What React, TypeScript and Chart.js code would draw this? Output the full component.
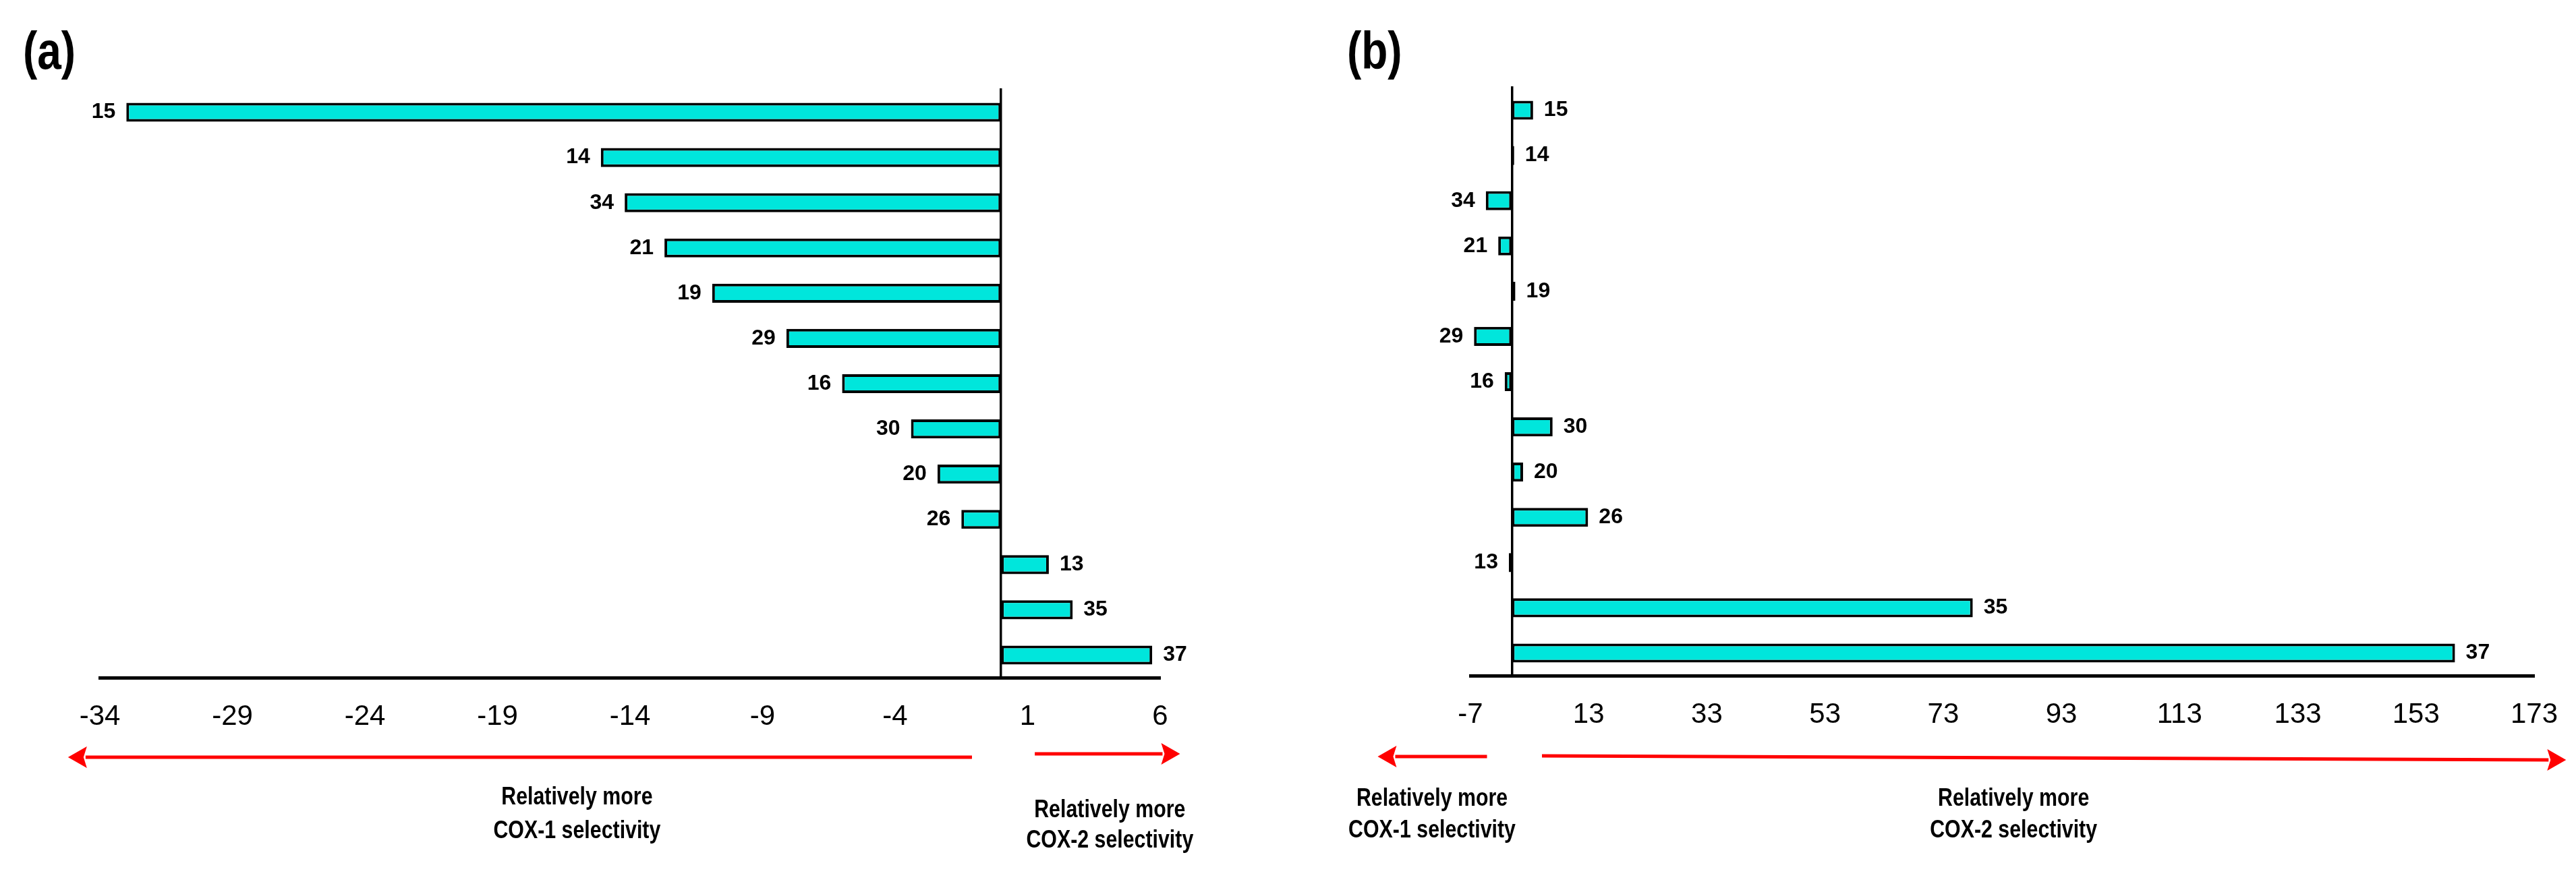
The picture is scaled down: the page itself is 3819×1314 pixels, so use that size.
import React, { useEffect, useRef } from "react";
import { Chart, registerables } from "chart.js";

Chart.register(...registerables);

// ---------- data ----------
const compounds = ["15", "14", "34", "21", "19", "29", "16", "30", "20", "26", "13", "35", "37"];
const valuesA = [-33, -15.1, -14.2, -12.7, -10.9, -8.1, -6.0, -3.4, -2.4, -1.5, 1.8, 2.7, 5.7];
const valuesB = [3.6, 0.4, -4.4, -2.3, 0.6, -6.4, -1.2, 6.9, 1.9, 12.9, -0.5, 78, 159.6];
const ticksA = [-34, -29, -24, -19, -14, -9, -4, 1, 6];
const ticksB = [-7, 13, 33, 53, 73, 93, 113, 133, 153, 173];
const panelTitles = ["(a)", "(b)"];
const noteCox1 = ["Relatively more", "COX-1 selectivity"];
const noteCox2 = ["Relatively more", "COX-2 selectivity"];

const SANS = "'Liberation Sans', Arial, sans-serif";
const RED = "#ff0000";
const CYAN = "#00e6dc";
const NARROW_SCALE = 0.82;

type Arrow = { from: number; to: number; dy1: number; dy2: number };
type Note = { at: number; dy1: number; dy2: number; lines: string[] };
type Decor = { title: string; titleX: number; titleY: number; arrows: Arrow[]; notes: Note[] };

function drawArrow(ctx: CanvasRenderingContext2D, x1: number, y1: number, x2: number, y2: number) {
  const ang = Math.atan2(y2 - y1, x2 - x1);
  const headLen = 28;
  const half = 16;
  const bx = x2 - headLen * Math.cos(ang);
  const by = y2 - headLen * Math.sin(ang);
  ctx.save();
  ctx.strokeStyle = RED;
  ctx.fillStyle = RED;
  ctx.lineWidth = 5;
  ctx.beginPath();
  ctx.moveTo(x1, y1);
  ctx.lineTo(bx + 2 * Math.cos(ang), by + 2 * Math.sin(ang));
  ctx.stroke();
  ctx.beginPath();
  ctx.moveTo(x2, y2);
  ctx.lineTo(bx - half * Math.sin(ang), by + half * Math.cos(ang));
  ctx.lineTo(bx + 5 * Math.cos(ang), by + 5 * Math.sin(ang));
  ctx.lineTo(bx + half * Math.sin(ang), by - half * Math.cos(ang));
  ctx.closePath();
  ctx.fill();
  ctx.restore();
}

function narrowText(ctx: CanvasRenderingContext2D, text: string, x: number, y: number) {
  ctx.save();
  ctx.translate(x, y);
  ctx.scale(NARROW_SCALE, 1);
  ctx.fillText(text, 0, 0);
  ctx.restore();
}

const decorPlugin = {
  id: "decor",
  afterDatasetsDraw(chart: any) {
    const ctx: CanvasRenderingContext2D = chart.ctx;
    const meta = chart.getDatasetMeta(0);
    const data = chart.data.datasets[0].data as number[];
    const labels = chart.data.labels as string[];
    ctx.save();
    ctx.font = `bold 32px ${SANS}`;
    ctx.fillStyle = "#000";
    ctx.textBaseline = "middle";
    meta.data.forEach((bar: any, i: number) => {
      const v = data[i];
      if (v < 0) {
        ctx.textAlign = "right";
        ctx.fillText(labels[i], bar.x - 16, bar.y);
      } else {
        ctx.textAlign = "left";
        ctx.fillText(labels[i], bar.x + 16, bar.y);
      }
    });
    ctx.restore();
  },
  afterDraw(chart: any, _args: any, opts: Decor) {
    const ctx: CanvasRenderingContext2D = chart.ctx;
    const xs = chart.scales.x;
    const bottom = chart.chartArea.bottom;
    ctx.save();
    ctx.fillStyle = "#000";
    ctx.font = `bold 78px ${SANS}`;
    ctx.textAlign = "left";
    ctx.textBaseline = "middle";
    narrowText(ctx, opts.title, opts.titleX, opts.titleY);
    opts.arrows.forEach((a) => {
      drawArrow(ctx, xs.getPixelForValue(a.from), bottom + a.dy1, xs.getPixelForValue(a.to), bottom + a.dy2);
    });
    ctx.font = `bold 37px ${SANS}`;
    ctx.textAlign = "center";
    opts.notes.forEach((n) => {
      const x = xs.getPixelForValue(n.at);
      narrowText(ctx, n.lines[0], x, bottom + n.dy1);
      narrowText(ctx, n.lines[1], x, bottom + n.dy2);
    });
    ctx.restore();
  },
};

function makeConfig(values: number[], ticks: number[], padding: any, decor: Decor): any {
  return {
    type: "bar",
    data: {
      labels: compounds,
      datasets: [
        {
          data: values,
          backgroundColor: CYAN,
          borderColor: "#000",
          borderWidth: 4,
          borderSkipped: false,
          barPercentage: 0.42,
          categoryPercentage: 1,
        },
      ],
    },
    options: {
      indexAxis: "y",
      responsive: false,
      animation: false,
      layout: { padding },
      plugins: {
        legend: { display: false },
        tooltip: { enabled: false },
        title: { display: false },
        decor,
      },
      scales: {
        x: {
          type: "linear",
          min: ticks[0],
          max: ticks[ticks.length - 1],
          afterBuildTicks: (s: any) => {
            s.ticks = ticks.map((v) => ({ value: v }));
          },
          afterFit: (s: any) => {
            s.height = 100;
            s.paddingLeft = 0;
            s.paddingRight = 0;
          },
          grid: { display: false, drawTicks: false },
          border: { display: true, color: "#000", width: 5 },
          ticks: {
            color: "#000",
            font: { size: 42, family: SANS },
            padding: 33,
            maxRotation: 0,
            autoSkip: false,
          },
        },
        y: {
          type: "category",
          position: { x: 0 },
          offset: true,
          grid: { display: false, drawTicks: false },
          border: { display: true, color: "#000", width: 3.5 },
          ticks: { display: false },
        },
      },
    },
    plugins: [decorPlugin],
  };
}

function Panel(props: { left: number; width: number; config: any }) {
  const ref = useRef<HTMLCanvasElement | null>(null);
  useEffect(() => {
    if (!ref.current) return;
    const chart = new Chart(ref.current, props.config);
    return () => chart.destroy();
  }, []);
  return (
    <canvas
      ref={ref}
      width={props.width}
      height={1314}
      style={{ position: "absolute", left: props.left, top: 0, width: props.width, height: 1314 }}
    />
  );
}

export default function App() {
  const configA = makeConfig(valuesA, ticksA, { left: 148, right: 180, top: 133, bottom: 209 }, {
    title: panelTitles[0],
    titleX: 34,
    titleY: 80,
    arrows: [
      { from: -1.1, to: -35.2, dy1: 118, dy2: 118 },
      { from: 1.27, to: 6.75, dy1: 113, dy2: 113 },
    ],
    notes: [
      { at: -16.0, dy1: 178, dy2: 228, lines: noteCox1 },
      { at: 4.1, dy1: 197, dy2: 242, lines: noteCox2 },
    ],
  });
  const configB = makeConfig(valuesB, ticksB, { left: 280, right: 62, top: 130, bottom: 212 }, {
    title: panelTitles[1],
    titleX: 97,
    titleY: 80,
    arrows: [
      { from: -4.2, to: -22.7, dy1: 120, dy2: 120 },
      { from: 5.1, to: 178.4, dy1: 119, dy2: 125 },
    ],
    notes: [
      { at: -13.5, dy1: 183, dy2: 230, lines: noteCox1 },
      { at: 84.9, dy1: 183, dy2: 230, lines: noteCox2 },
    ],
  });
  return (
    <div style={{ position: "absolute", left: 0, top: 0, width: 3819, height: 1314, background: "#fff" }}>
      <Panel left={0} width={1900} config={configA} />
      <Panel left={1900} width={1919} config={configB} />
    </div>
  );
}
